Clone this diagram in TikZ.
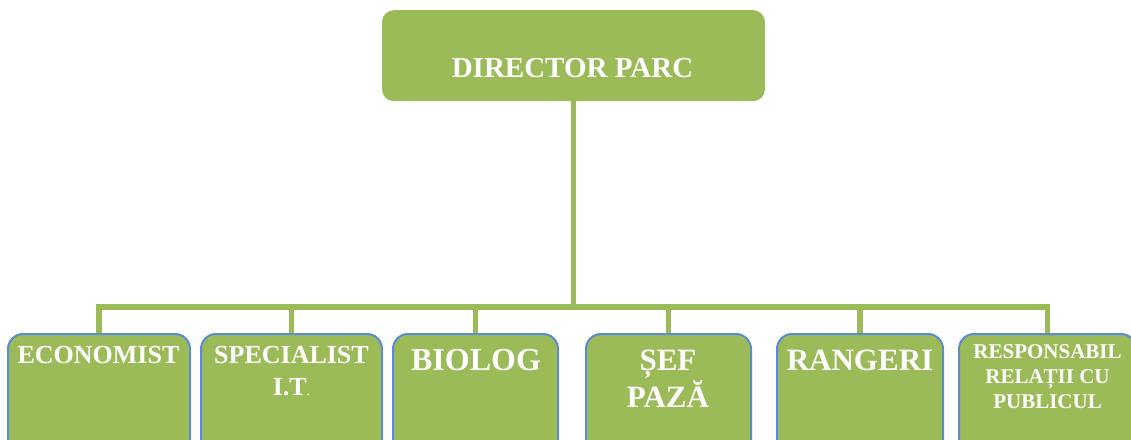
\documentclass[tikz,border=0pt]{standalone}
\usepackage{fontspec}
\setmainfont{Liberation Serif}
\definecolor{boxgreen}{HTML}{9BBB59}
\definecolor{boxblue}{HTML}{5B8CD2}
\begin{document}
\begin{tikzpicture}[x=1pt,y=1pt,
  topbox/.style={fill=boxgreen, draw=none, rounded corners=12pt, minimum width=383pt, minimum height=91pt, inner sep=0pt, anchor=north},
  subbox/.style={fill=boxgreen, draw=boxblue, line width=2pt, rounded corners=15pt, minimum height=140pt, inner sep=0pt, anchor=north},
  lbl/.style={text=white, font=\bfseries, align=center, inner sep=0pt, anchor=base},
  conn/.style={draw=boxgreen, line width=5.5pt, line join=miter}]
\clip (0,0) rectangle (1131,439);
\useasboundingbox (0,0) rectangle (1131,439);
% boxes
\node[topbox] (dir) at (573.5,429) {};
\node[subbox, minimum width=182pt] (b1) at (99,106) {};
\node[subbox, minimum width=181pt] (b2) at (291.5,106) {};
\node[subbox, minimum width=165pt] (b3) at (475.5,106) {};
\node[subbox, minimum width=165pt] (b4) at (668.5,106) {};
\node[subbox, minimum width=166pt] (b5) at (860,106) {};
\node[subbox, minimum width=177pt] (b6) at (1047.5,106) {};
% connectors
\coordinate (bus) at (573.5,132);
\draw[conn] (dir.south) -- (bus);
\draw[conn] (b1.north) -- (b1.north |- bus) -- (b6.north |- bus) -- (b6.north);
\foreach \b in {b2,b3,b4,b5} \draw[conn] (\b.north) -- (\b.north |- bus);
% labels (base = baseline of last line)
\node[lbl, font=\bfseries\fontsize{29}{34}\selectfont] (tdir) at (572.5,361) {DIRECTOR PARC};
\node[lbl, font=\bfseries\fontsize{26}{32}\selectfont] (t1) at (98.5,76) {ECONOMIST};
\node[lbl, font=\bfseries\fontsize{26}{32}\selectfont] (t2) at (291.5,44) {SPECIALIST\\I.T{\normalfont\fontsize{14}{14}\selectfont .}};
\node[lbl, font=\bfseries\fontsize{32}{37}\selectfont] (t3) at (476,69) {BIOLOG};
\node[lbl, font=\bfseries\fontsize{31}{37}\selectfont] (t4) at (668,32) {ȘEF\\PAZĂ};
\node[lbl, font=\bfseries\fontsize{31}{37}\selectfont] (t5) at (860,69) {RANGERI};
\node[lbl, font=\bfseries\fontsize{21}{25}\selectfont] (t6) at (1047.5,31) {RESPONSABIL\\RELAȚII CU\\PUBLICUL};
\end{tikzpicture}
\end{document}
